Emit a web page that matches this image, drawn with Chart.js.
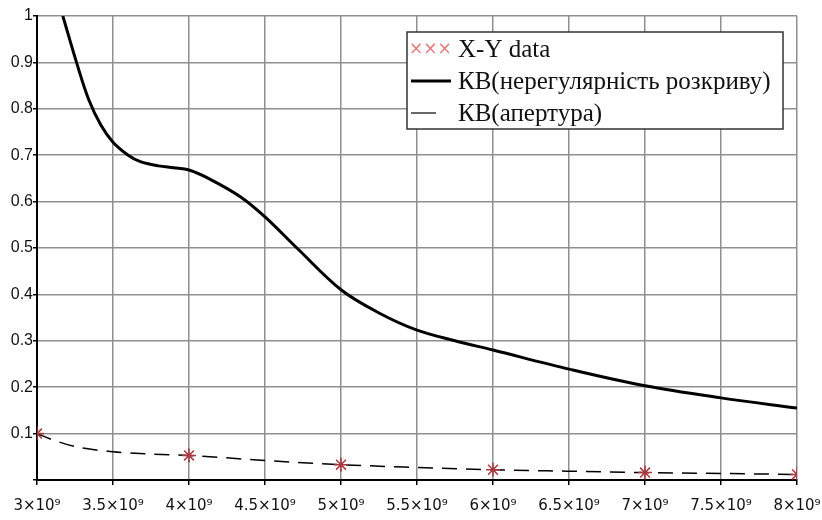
<!DOCTYPE html>
<html>
<head>
<meta charset="utf-8">
<script src="https://cdn.jsdelivr.net/npm/chart.js@4.4.0/dist/chart.umd.min.js"></script>
<style>
  html, body { margin: 0; padding: 0; background: #fff; }
  #wrap { width: 822px; height: 520px; }
</style>
</head>
<body>
<div id="wrap"><canvas id="kvChart"></canvas></div>
<script>
// частота, Гц
const roughX = [3.17e9, 3.26e9, 3.34e9, 3.42e9, 3.5e9, 3.6e9, 3.68e9, 3.8e9, 3.9e9, 4.0e9, 4.14e9, 4.34e9,
                4.5e9, 4.71e9, 5.0e9, 5.25e9, 5.5e9, 5.75e9, 6.0e9, 6.5e9, 7.0e9, 7.5e9, 8.0e9];
const roughY = [1.0, 0.9, 0.82, 0.765, 0.728, 0.70, 0.686, 0.677, 0.673, 0.668, 0.648, 0.61,
                0.567, 0.5, 0.41, 0.36, 0.323, 0.30, 0.28, 0.239, 0.203, 0.177, 0.155];

const apertX = [3.0e9, 3.1e9, 3.25e9, 3.5e9, 3.75e9, 4.0e9, 4.5e9, 5.0e9, 5.5e9, 6.0e9, 6.5e9, 7.0e9, 7.5e9, 8.0e9];
const apertY = [0.1, 0.087, 0.072, 0.061, 0.056, 0.053, 0.042, 0.033, 0.027, 0.022, 0.019, 0.016, 0.014, 0.012];

const dataX = [3e9, 4e9, 5e9, 6e9, 7e9, 8e9];
const dataY = [0.1, 0.053, 0.033, 0.022, 0.016, 0.012];

const legendLabels = ["X-Y data", "КВ(нерегулярність розкриву)", "КВ(апертура)"];

const toPts = (xs, ys) => xs.map((x, i) => ({ x: x, y: ys[i] }));

const sup9 = '\u2079';

// легенда в рамці всередині області графіка
const boxLegend = {
  id: 'boxLegend',
  afterDraw(chart) {
    const c = chart.ctx;
    const x0 = 407, y0 = 32, w = 376, h = 97;
    c.save();
    c.fillStyle = '#fff';
    c.fillRect(x0, y0, w, h);
    c.strokeStyle = '#333';
    c.lineWidth = 1.5;
    c.strokeRect(x0, y0, w, h);

    const rows = [49, 81, 113];
    c.font = '25px "Liberation Serif", "DejaVu Serif", serif';
    c.textBaseline = 'middle';
    c.fillStyle = '#111';
    legendLabels.forEach((t, i) => c.fillText(t, 458, rows[i] + 1));

    c.fillStyle = '#e07a7a';
    c.font = '17px "DejaVu Sans", sans-serif';
    c.fillText('\u00d7\u00d7\u00d7', 409, rows[0] + 1);

    c.strokeStyle = '#000';
    c.lineWidth = 3;
    c.beginPath(); c.moveTo(411, rows[1]); c.lineTo(451, rows[1]); c.stroke();
    c.lineWidth = 1.2;
    c.beginPath(); c.moveTo(411, rows[2]); c.lineTo(436, rows[2]); c.stroke();
    c.restore();
  }
};

new Chart(document.getElementById('kvChart'), {
  type: 'line',
  data: {
    datasets: [
      {
        label: legendLabels[0],
        data: toPts(dataX, dataY),
        showLine: false,
        pointStyle: 'star',
        pointRadius: 7,
        pointBorderColor: '#a8393c',
        pointBorderWidth: 1.5,
        order: 0
      },
      {
        label: legendLabels[1],
        data: toPts(roughX, roughY),
        borderColor: '#000',
        borderWidth: 3,
        pointRadius: 0,
        tension: 0.35,
        order: 1
      },
      {
        label: legendLabels[2],
        data: toPts(apertX, apertY),
        borderColor: '#000',
        borderWidth: 1.5,
        borderDash: [15, 9],
        pointRadius: 0,
        cubicInterpolationMode: 'monotone',
        order: 2
      }
    ]
  },
  options: {
    responsive: true,
    maintainAspectRatio: false,
    animation: false,
    layout: { padding: { top: 16, right: 25, left: 0, bottom: 0 } },
    plugins: {
      legend: { display: false },
      tooltip: { enabled: false }
    },
    scales: {
      x: {
        type: 'linear',
        min: 3e9,
        max: 8e9,
        afterFit(s) { s.height = 40; s.paddingLeft = 0; s.paddingRight = 0; },
        ticks: {
          stepSize: 5e8,
          color: '#111',
          padding: 12,
          maxRotation: 0,
          autoSkip: false,
          font: { family: '"DejaVu Sans", "Liberation Sans", sans-serif', size: 15 },
          callback: (v) => (v / 1e9) + '\u00d7' + '10' + sup9
        },
        grid: { color: '#8f8f8f', lineWidth: 1.5, tickColor: '#000', tickLength: 5 },
        border: { color: '#000', width: 2 }
      },
      y: {
        min: 0,
        max: 1,
        afterFit(s) { s.width = 37; s.paddingTop = 0; s.paddingBottom = 0; },
        ticks: {
          stepSize: 0.1,
          color: '#111',
          padding: 0,
          font: { family: '"Liberation Sans", Arial, sans-serif', size: 16 },
          callback: (v) => v === 0 ? '' : String(Number(v.toFixed(1)))
        },
        grid: { color: '#8f8f8f', lineWidth: 1.5, tickColor: '#000', tickLength: 4 },
        border: { color: '#000', width: 2 }
      }
    }
  },
  plugins: [boxLegend]
});
</script>
</body>
</html>
